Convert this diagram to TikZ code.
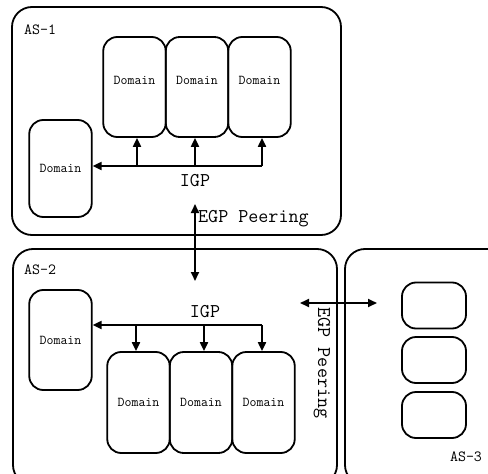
\documentclass[tikz,border=0pt]{standalone}
\usetikzlibrary{arrows.meta}
\begin{document}
\begin{tikzpicture}[x=1pt,y=-1pt,
  dom/.style={draw, line width=1.8pt, rounded corners=14pt, minimum width=62.5pt, minimum height=100pt, inner sep=0pt, font=\ttfamily\fontsize{13.5}{13.5}\selectfont},
  smallbox/.style={draw, line width=1.8pt, rounded corners=14pt, minimum width=64pt, minimum height=46pt},
  asbox/.style={line width=1.8pt, rounded corners=20pt},
  aslabel/.style={font=\ttfamily\fontsize{15.5}{15.5}\selectfont, inner sep=0pt},
  biglabel/.style={font=\ttfamily\fontsize{19.5}{19.5}\selectfont, inner sep=0pt},
  link/.style={line width=2pt, -{Triangle[length=9pt,width=8pt]}},
  dlink/.style={line width=2pt, {Triangle[length=9pt,width=8pt]}-{Triangle[length=9pt,width=8pt]}}]
\useasboundingbox (0,0) rectangle (488,474);
\clip (0,0) rectangle (488,474);
% AS boxes
\draw[asbox] (12,7) rectangle (341,235);
\draw[asbox] (13,249) rectangle (337,485);
\draw[asbox] (345,249) rectangle (520,485);
\node[aslabel, anchor=west] (as1) at (24,30) {AS-1};
\node[aslabel, anchor=west] (as2) at (24,270) {AS-2};
\node[aslabel] (as3) at (466,457) {AS-3};
% AS-1 domains
\node[dom, text depth=14pt] (A1) at (134.5,87) {Domain};
\node[dom, text depth=14pt] (A2) at (197,87) {Domain};
\node[dom, text depth=14pt] (A3) at (259.5,87) {Domain};
\node[dom, minimum height=97pt] (AL) at (60.5,168.5) {Domain};
% AS-1 IGP
\coordinate (h1) at (262,166);
\draw[link] (h1) -- (h1 -| AL.east);
\coordinate (v11) at (137,166);
\coordinate (v12) at (195,166);
\coordinate (v13) at (262,166);
\draw[link] (v11) -- (v11 |- A1.south);
\draw[link] (v12) -- (v12 |- A2.south);
\draw[link] (v13) -- (v13 |- A3.south);
\node[biglabel] (igp1) at (195,181) {IGP};
% EGP vertical
\coordinate (e1) at (195,204);
\coordinate (e2) at (195,281);
\draw[dlink] (e1) -- (e2);
\node[biglabel, anchor=west] (egp1) at (198,219) {EGP Peering};
% AS-2 domains
\node[dom] (BL) at (60.5,340) {Domain};
\node[dom, minimum height=101pt] (B1) at (138.5,402.5) {Domain};
\node[dom, minimum height=101pt] (B2) at (201,402.5) {Domain};
\node[dom, minimum height=101pt] (B3) at (263.5,402.5) {Domain};
% AS-2 IGP
\coordinate (h2) at (262,325);
\draw[link] (h2) -- (h2 -| BL.east);
\coordinate (v21) at (136,325);
\coordinate (v22) at (204,325);
\coordinate (v23) at (262,325);
\draw[link] (v21) -- (v21 |- B1.north);
\draw[link] (v22) -- (v22 |- B2.north);
\draw[link] (v23) -- (v23 |- B3.north);
\node[biglabel] (igp2) at (205,312) {IGP};
% EGP horizontal
\coordinate (f1) at (300,303);
\coordinate (f2) at (377,303);
\draw[dlink] (f1) -- (f2);
\node[biglabel, rotate=-90] (egp2) at (322,363) {EGP Peering};
% AS-3 small boxes
\node[smallbox] (C1) at (434,305.5) {};
\node[smallbox] (C2) at (434,360) {};
\node[smallbox] (C3) at (434,415) {};
\end{tikzpicture}
\end{document}
